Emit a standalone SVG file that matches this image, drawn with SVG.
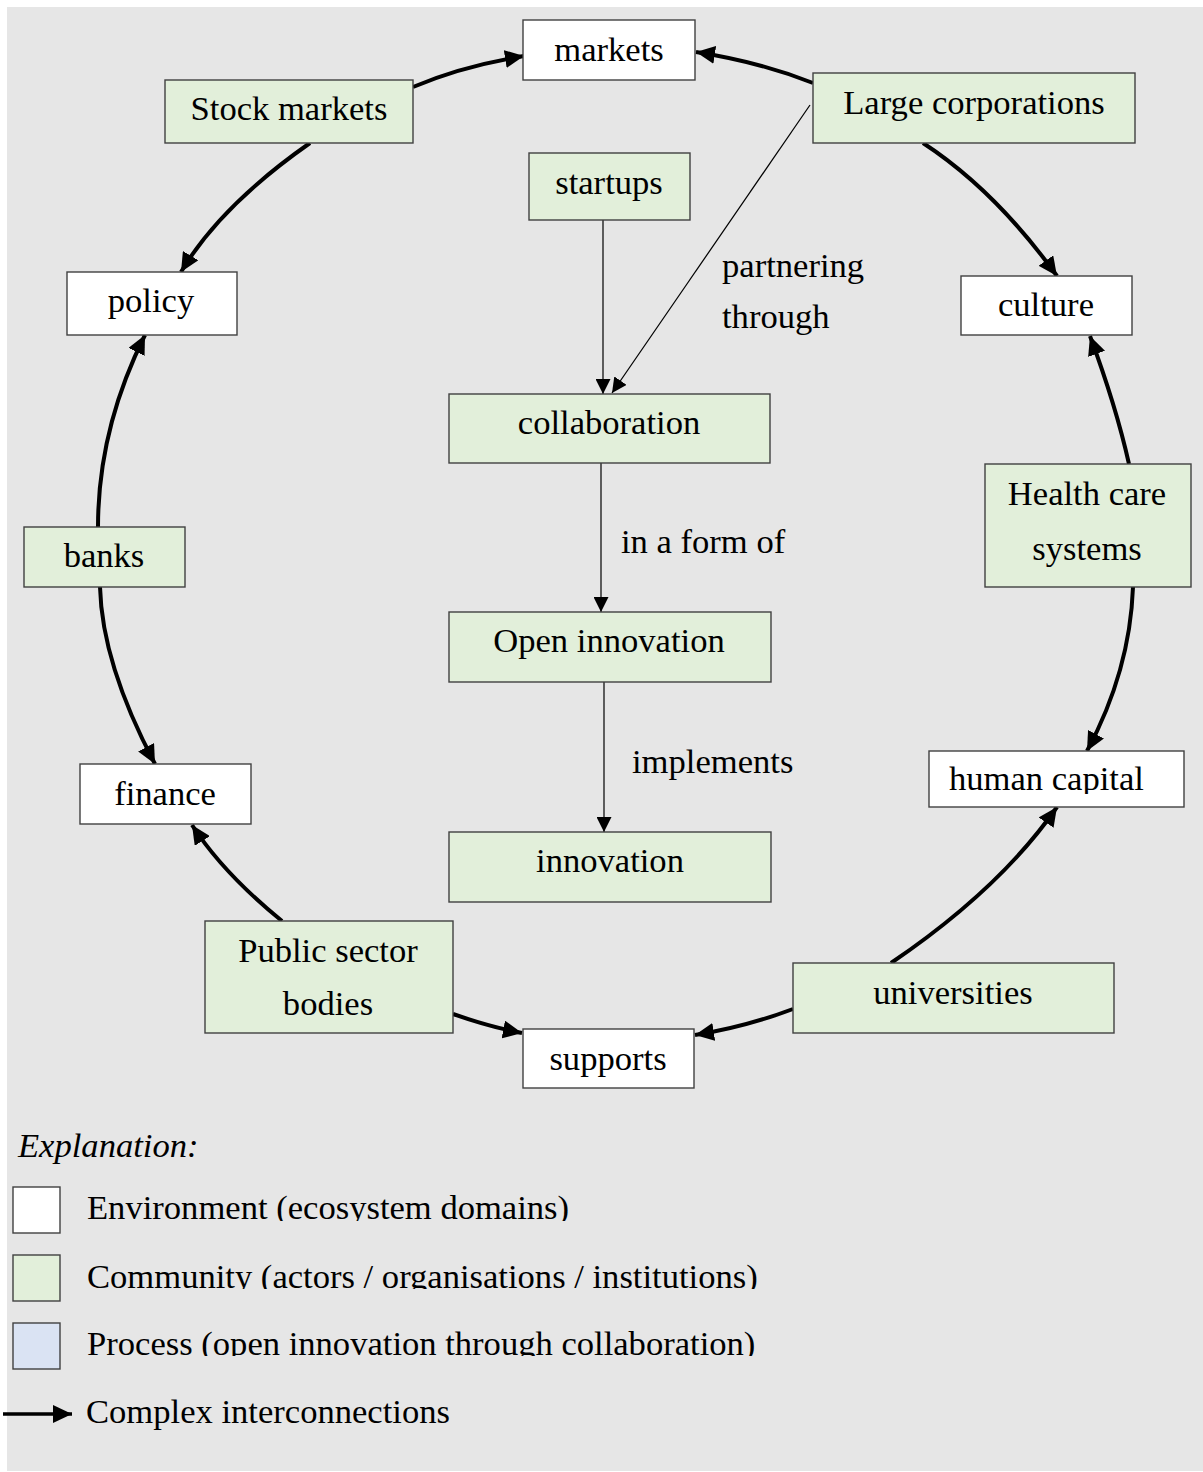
<svg xmlns="http://www.w3.org/2000/svg" width="1203" height="1472" viewBox="0 0 1203 1472">
  <style>
    text { font-family: "Liberation Serif", "Times New Roman", serif; font-size: 34.6px; fill: #000; }
    .c { text-anchor: middle; }
    .env { fill: #ffffff; stroke: #404040; stroke-width: 1.4; }
    .com { fill: #e2efda; stroke: #404040; stroke-width: 1.4; }
    .proc { fill: #dae3f3; stroke: #404040; stroke-width: 1.4; }
    .thick { fill: none; stroke: #000; stroke-width: 4; }
    .thin { fill: none; stroke: #000; stroke-width: 1.2; }
  </style>
  <defs>
    <marker id="headBig" markerUnits="userSpaceOnUse" markerWidth="20" markerHeight="18" refX="19" refY="9" orient="auto">
      <path d="M0,0 L19,9 L0,18 Z" fill="#000"/>
    </marker>
    <marker id="headSmall" markerUnits="userSpaceOnUse" markerWidth="16" markerHeight="15" refX="15" refY="7.5" orient="auto">
      <path d="M0,0 L15,7.5 L0,15 Z" fill="#000"/>
    </marker>
    <clipPath id="clipHuman"><rect x="930" y="752" width="253" height="42"/></clipPath>
    <clipPath id="clipEnv"><rect x="80" y="1180" width="600" height="41"/></clipPath>
    <clipPath id="clipCom"><rect x="80" y="1248" width="800" height="41"/></clipPath>
    <clipPath id="clipProc"><rect x="80" y="1315" width="800" height="41"/></clipPath>
  </defs>

  <!-- canvas -->
  <rect x="0" y="0" width="1203" height="1472" fill="#ffffff"/>
  <rect x="7" y="7" width="1196" height="1464" fill="#e6e6e6"/>

  <!-- connectors -->
  <g id="connectors">
    <!-- outer ring of interconnections -->
    <path class="thick" d="M413,87 Q462,66 524,56" marker-end="url(#headBig)"/>
    <path class="thick" d="M813,83 Q760,62 696,52" marker-end="url(#headBig)"/>
    <path class="thick" d="M310,143 Q220,206 181,272" marker-end="url(#headBig)"/>
    <path class="thick" d="M98,527 Q98,429 145,335" marker-end="url(#headBig)"/>
    <path class="thick" d="M100,587 Q102,664 155,764" marker-end="url(#headBig)"/>
    <path class="thick" d="M282,921 Q223,873 192,825" marker-end="url(#headBig)"/>
    <path class="thick" d="M453,1014 Q490,1027 522,1033" marker-end="url(#headBig)"/>
    <path class="thick" d="M793,1009 Q745,1027 695,1035" marker-end="url(#headBig)"/>
    <path class="thick" d="M891,963 Q1000,889 1057,807" marker-end="url(#headBig)"/>
    <path class="thick" d="M1133,587 Q1130,671 1087,751" marker-end="url(#headBig)"/>
    <path class="thick" d="M1129,464 Q1116,406 1090,336" marker-end="url(#headBig)"/>
    <path class="thick" d="M923,143 Q995,190 1057,276" marker-end="url(#headBig)"/>
    <!-- central process chain -->
    <path class="thin" d="M603,220 L603,394" marker-end="url(#headSmall)"/>
    <path class="thin" d="M810,105 L612,393" marker-end="url(#headSmall)"/>
    <path class="thin" d="M601,463 L601,612" marker-end="url(#headSmall)"/>
    <path class="thin" d="M604,682 L604,832" marker-end="url(#headSmall)"/>
    <text x="722" y="277">partnering</text>
    <text x="722" y="328">through</text>
    <text x="621" y="553">in a form of</text>
    <text x="632" y="773">implements</text>
  </g>

  <!-- environment domains -->
  <g id="markets"><rect class="env" x="523" y="20" width="172" height="60"/><text class="c" x="609" y="61">markets</text></g>
  <g id="policy"><rect class="env" x="67" y="272" width="170" height="63"/><text class="c" x="151" y="312">policy</text></g>
  <g id="culture"><rect class="env" x="961" y="276" width="171" height="59"/><text class="c" x="1046" y="316">culture</text></g>
  <g id="finance"><rect class="env" x="80" y="764" width="171" height="60"/><text class="c" x="165" y="805">finance</text></g>
  <g id="human-capital"><rect class="env" x="929" y="751" width="255" height="56"/><text x="949" y="790" clip-path="url(#clipHuman)">human capital</text></g>
  <g id="supports"><rect class="env" x="523" y="1029" width="171" height="59"/><text class="c" x="608" y="1070">supports</text></g>

  <!-- community actors -->
  <g id="stock-markets"><rect class="com" x="165" y="80" width="248" height="63"/><text class="c" x="289" y="120">Stock markets</text></g>
  <g id="large-corporations"><rect class="com" x="813" y="73" width="322" height="70"/><text class="c" x="974" y="114">Large corporations</text></g>
  <g id="startups"><rect class="com" x="529" y="153" width="161" height="67"/><text class="c" x="609" y="194">startups</text></g>
  <g id="banks"><rect class="com" x="24" y="527" width="161" height="60"/><text class="c" x="104" y="567">banks</text></g>
  <g id="health-care"><rect class="com" x="985" y="464" width="206" height="123"/><text class="c" x="1087" y="505">Health care</text><text class="c" x="1087" y="560">systems</text></g>
  <g id="public-sector"><rect class="com" x="205" y="921" width="248" height="112"/><text class="c" x="328" y="962">Public sector</text><text class="c" x="328" y="1015">bodies</text></g>
  <g id="universities"><rect class="com" x="793" y="963" width="321" height="70"/><text class="c" x="953" y="1004">universities</text></g>

  <!-- process -->
  <g id="collaboration"><rect class="com" x="449" y="394" width="321" height="69"/><text class="c" x="609" y="434">collaboration</text></g>
  <g id="open-innovation"><rect class="com" x="449" y="612" width="322" height="70"/><text class="c" x="609" y="652">Open innovation</text></g>
  <g id="innovation"><rect class="com" x="449" y="832" width="322" height="70"/><text class="c" x="610" y="872">innovation</text></g>

  <!-- legend -->
  <g id="legend">
    <text x="18" y="1157" font-style="italic">Explanation:</text>
    <rect class="env" x="13" y="1187" width="47" height="46"/>
    <text x="87" y="1219" clip-path="url(#clipEnv)">Environment (ecosystem domains)</text>
    <rect class="com" x="13" y="1255" width="47" height="46"/>
    <text x="87" y="1288" clip-path="url(#clipCom)">Community (actors / organisations / institutions)</text>
    <rect class="proc" x="13" y="1323" width="47" height="46"/>
    <text x="87" y="1355" clip-path="url(#clipProc)">Process (open innovation through collaboration)</text>
    <path d="M3,1414 L72,1414" stroke="#000" stroke-width="3.5" marker-end="url(#headBig)"/>
    <text x="86" y="1423">Complex interconnections</text>
  </g>
</svg>
